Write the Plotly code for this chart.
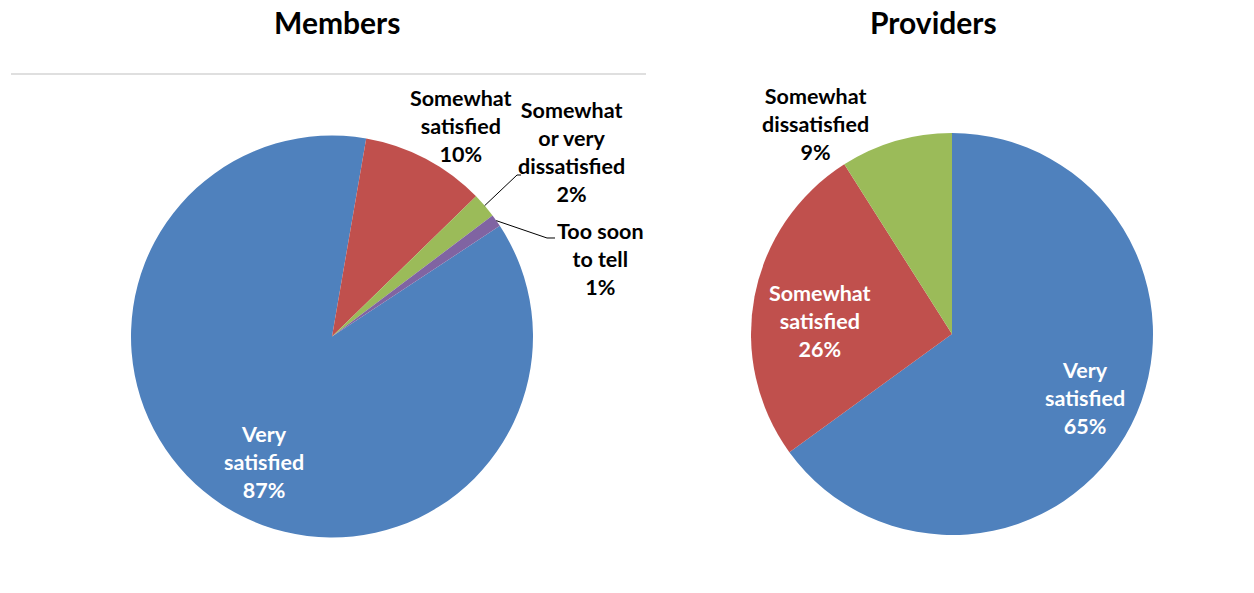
import math
import plotly.graph_objects as go

W, H = 1254, 593

# ---- data ----
members_categories = ["Very satisfied", "Somewhat satisfied",
                      "Somewhat or very dissatisfied", "Too soon to tell"]
members_values = [87, 10, 2, 1]
members_label_text = ["Very<br>satisfied", "Somewhat<br>satisfied",
                      "Somewhat<br>or very<br>dissatisfied", "Too soon<br>to tell"]

providers_categories = ["Very satisfied", "Somewhat satisfied", "Somewhat dissatisfied"]
providers_values = [65, 26, 9]
providers_label_text = ["Very<br>satisfied", "Somewhat<br>satisfied",
                        "Somewhat<br>dissatisfied"]

titles = ["Members", "Providers"]

# ---- styles ----
members_colors = ["#4F81BD", "#C0504D", "#9BBB59", "#8064A2"]
providers_colors = ["#4F81BD", "#C0504D", "#9BBB59"]
FONT = "Lato"
LABEL_SIZE = 21.5
TITLE_SIZE = 30

# pie geometry (screen pixels)
m_cx, m_cy, m_r, m_rot = 332, 336.5, 201, 56.6
p_cx, p_cy, p_r, p_rot = 952, 334, 201, 0


def px_x(x):
    return x / W


def px_y(y):
    return 1 - y / H


def domain(cx, cy, r):
    return dict(x=[px_x(cx - r), px_x(cx + r)], y=[px_y(cy + r), px_y(cy - r)])


def mid_point(values, idx, cx, cy, r, rot):
    total = sum(values)
    start = sum(values[:idx])
    ang = math.radians(rot + 360 * (start + values[idx] / 2) / total)
    return cx + r * math.sin(ang), cy - r * math.cos(ang)


fig = go.Figure()
fig.add_trace(go.Pie(
    labels=members_categories, values=members_values, sort=False,
    direction="clockwise", rotation=m_rot,
    marker=dict(colors=members_colors, line=dict(width=0)),
    textinfo="none", showlegend=False, domain=domain(m_cx, m_cy, m_r),
    hovertemplate="%{label}: %{value}%<extra></extra>",
))
fig.add_trace(go.Pie(
    labels=providers_categories, values=providers_values, sort=False,
    direction="clockwise", rotation=p_rot,
    marker=dict(colors=providers_colors, line=dict(width=0)),
    textinfo="none", showlegend=False, domain=domain(p_cx, p_cy, p_r),
    hovertemplate="%{label}: %{value}%<extra></extra>",
))

annotations = []
# titles
for t, x in zip(titles, [337, 933]):
    annotations.append(dict(text="<b>%s</b>" % t, x=px_x(x), y=px_y(22),
                            xref="paper", yref="paper", showarrow=False,
                            xanchor="center", yanchor="middle",
                            font=dict(family=FONT, size=TITLE_SIZE, color="#000000")))

# label positions (pixel centres) and colors
m_label_pos = [(264, 462), (461, 126), (571, 152), (600, 259)]
m_label_col = ["#FFFFFF", "#000000", "#000000", "#000000"]
p_label_pos = [(1085, 398), (820, 321), (815, 124)]
p_label_col = ["#FFFFFF", "#FFFFFF", "#000000"]

for txt, v, (x, y), c in zip(members_label_text, members_values, m_label_pos, m_label_col):
    annotations.append(dict(text="<b>%s<br>%d%%</b>" % (txt, v), x=px_x(x), y=px_y(y),
                            xref="paper", yref="paper", showarrow=False,
                            xanchor="center", yanchor="middle",
                            font=dict(family=FONT, size=LABEL_SIZE, color=c)))
for txt, v, (x, y), c in zip(providers_label_text, providers_values, p_label_pos, p_label_col):
    annotations.append(dict(text="<b>%s<br>%d%%</b>" % (txt, v), x=px_x(x), y=px_y(y),
                            xref="paper", yref="paper", showarrow=False,
                            xanchor="center", yanchor="middle",
                            font=dict(family=FONT, size=LABEL_SIZE, color=c)))

shapes = []
# top border line of the members chart
shapes.append(dict(type="line", xref="paper", yref="paper",
                   x0=px_x(11), x1=px_x(646), y0=px_y(74), y1=px_y(74),
                   line=dict(color="#BFBFBF", width=1)))

# leader lines for small slices
elbows = {2: [(517, 175), (521, 175)], 3: [(547, 238), (555, 238)]}
for idx, pts in elbows.items():
    sx, sy = mid_point(members_values, idx, m_cx, m_cy, m_r, m_rot)
    allp = [(sx, sy)] + pts
    path = "M " + " L ".join("%f,%f" % (px_x(a), px_y(b)) for a, b in allp)
    shapes.append(dict(type="path", xref="paper", yref="paper", path=path,
                       line=dict(color="#000000", width=1)))

fig.update_layout(
    width=W, height=H, autosize=False,
    margin=dict(l=0, r=0, t=0, b=0),
    paper_bgcolor="#FFFFFF", plot_bgcolor="#FFFFFF",
    annotations=annotations, shapes=shapes,
    font=dict(family=FONT),
)

fig.write_html(
    "out.html",
    config={"displayModeBar": False},
    post_script="document.body.style.margin='0';document.body.style.overflow='hidden';",
)
